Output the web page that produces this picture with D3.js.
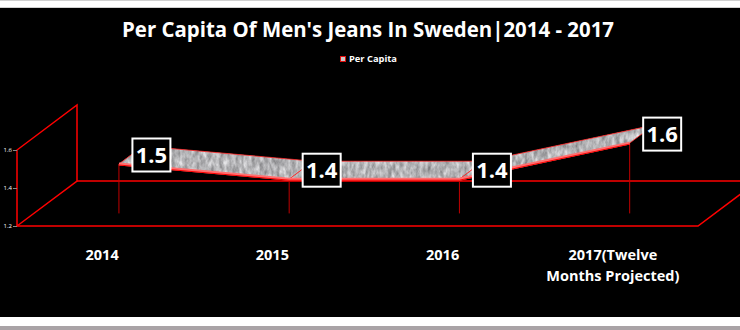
<!DOCTYPE html>
<html>
<head>
<meta charset="utf-8">
<script src="https://cdn.jsdelivr.net/npm/d3@7"></script>
<style>
  html, body { margin: 0; padding: 0; background: #fff; }
  svg { display: block; }
</style>
</head>
<body>
<svg id="chart" width="740" height="330"></svg>
<script>
// chart data
var categories = ["2014", "2015", "2016", "2017(Twelve Months Projected)"];
var perCapita = [1.46, 1.38, 1.38, 1.57];
var yTicks = [1.2, 1.4, 1.6];
var seriesName = "Per Capita";

var svg = d3.select("#chart");

// page frame: thin white bands top and bottom, black chart area
svg.append("rect").attr("x", 0).attr("y", 0).attr("width", 740).attr("height", 330).attr("fill", "#fff");
svg.append("rect").attr("x", 0).attr("y", 0).attr("width", 740).attr("height", 1).attr("fill", "#d0d0d0");
svg.append("rect").attr("x", 0).attr("y", 7).attr("width", 740).attr("height", 1).attr("fill", "#d0d0d0");
svg.append("rect").attr("x", 0).attr("y", 8).attr("width", 740).attr("height", 309).attr("fill", "#000");
svg.append("rect").attr("x", 0).attr("y", 326).attr("width", 740).attr("height", 4).attr("fill", "#a9a3a6");

var defs = svg.append("defs");
var filt = defs.append("filter").attr("id", "granite")
  .attr("color-interpolation-filters", "sRGB")
  .attr("x", 0).attr("y", 0).attr("width", 1).attr("height", 1);
filt.append("feTurbulence").attr("type", "fractalNoise")
  .attr("baseFrequency", "0.25 0.12").attr("numOctaves", 3).attr("seed", 4).attr("result", "noise");
filt.append("feColorMatrix").attr("in", "noise").attr("type", "matrix")
  .attr("values", "0.55 0 0 0 0.43  0.55 0 0 0 0.43  0.55 0 0 0 0.44  0 0 0 0 1").attr("result", "grey");
filt.append("feComposite").attr("in", "grey").attr("in2", "SourceGraphic").attr("operator", "in");

// 3d projection: depth 0..1 shifts right and up
var depthX = 60, depthY = -45;
var x = d3.scaleBand().domain(categories).range([17, 698]);
var y = d3.scaleLinear().domain([1.2, 1.6]).range([226, 150]);
function px(cat, d) { return x(cat) + x.bandwidth() / 2 + d * depthX; }
function py(v, d) { return y(v) + d * depthY; }

var front = 0.28, back = 0.68;
var red = "#ff0000";

// title
svg.append("text")
  .attr("x", 368).attr("y", 37)
  .attr("text-anchor", "middle")
  .attr("font-family", "'Open Sans', sans-serif")
  .attr("font-weight", "bold")
  .attr("font-size", 21)
  .attr("fill", "#fff")
  .attr("textLength", 492).attr("lengthAdjust", "spacingAndGlyphs")
  .text("Per Capita Of Men's Jeans In Sweden|2014 - 2017");

// legend
var leg = svg.append("g").attr("transform", "translate(340,56)");
leg.append("rect").attr("x", 0.5).attr("y", 0.5).attr("width", 5).attr("height", 5)
  .attr("fill", "#c8c8c8").attr("stroke", "#e01010").attr("stroke-width", 1);
leg.append("text").attr("x", 9).attr("y", 6)
  .attr("font-family", "'Open Sans', sans-serif").attr("font-weight", "bold")
  .attr("font-size", 9.5).attr("fill", "#fff")
  .attr("textLength", 48).attr("lengthAdjust", "spacingAndGlyphs")
  .text(seriesName);

// walls and floor
var x0 = x.range()[0], x1 = x.range()[1];
var yMin = y(y.domain()[0]), yMax = y(y.domain()[1]);
var walls = svg.append("g").attr("fill", "none").attr("stroke", red).attr("stroke-width", 1.5);
walls.append("path").attr("d",
  "M" + x0 + "," + yMin + "V" + yMax +
  "L" + (x0 + depthX) + "," + (yMax + depthY) +
  "V" + (yMin + depthY) + "L" + x0 + "," + yMin);
walls.append("path").attr("d", "M" + (x0 + depthX) + "," + (yMin + depthY) + "H" + (x1 + depthX));
walls.append("path").attr("d", "M" + x0 + "," + yMin + "H" + x1 + "L" + (x1 + depthX) + "," + (yMin + depthY));

// y axis ticks, labels squeezed into the narrow left margin
var yAxis = svg.append("g").attr("transform", "translate(" + x0 + ",0)")
  .call(d3.axisLeft(y).tickValues(yTicks).tickSize(4).tickFormat(d3.format(".1f")));
yAxis.select(".domain").remove();
yAxis.selectAll(".tick line").attr("stroke", "#888");
yAxis.selectAll(".tick text").attr("fill", "#fff").attr("font-size", 6)
  .attr("font-family", "'Open Sans', sans-serif").attr("x", -5);

// drop lines
svg.append("g").selectAll("line").data(categories).enter().append("line")
  .attr("x1", function(c) { return px(c, front); })
  .attr("x2", function(c) { return px(c, front); })
  .attr("y1", function(c, i) { return py(perCapita[i], front); })
  .attr("y2", function(c) { return py(y.domain()[0], front); })
  .attr("stroke", "#c00000").attr("stroke-width", 1);

// ribbon
var ribbon = svg.append("g");
for (var i = 0; i < categories.length - 1; i++) {
  var c0 = categories[i], c1 = categories[i + 1];
  var v0 = perCapita[i], v1 = perCapita[i + 1];
  var pts = [[px(c0, front), py(v0, front)], [px(c1, front), py(v1, front)],
             [px(c1, back), py(v1, back)], [px(c0, back), py(v0, back)]];
  ribbon.append("path")
    .attr("d", "M" + pts.join("L") + "Z")
    .attr("fill", "#a8a8a8");
  ribbon.append("path")
    .attr("d", "M" + pts.join("L") + "Z")
    .attr("fill", "#a8a8a8").attr("filter", "url(#granite)");
  ribbon.append("path")
    .attr("d", "M" + pts.join("L") + "Z")
    .attr("fill", "none").attr("stroke", "#ff2020").attr("stroke-width", 0.8);
}
// front face of the ribbon
var frontLine = d3.line()
  .x(function(d, i) { return px(categories[i], front); })
  .y(function(d) { return py(d, front); });
ribbon.append("path").attr("d", frontLine(perCapita))
  .attr("fill", "none").attr("stroke", "#ff7070").attr("stroke-width", 3);
ribbon.append("path").attr("d", frontLine(perCapita))
  .attr("fill", "none").attr("stroke", "#ff0000").attr("stroke-width", 1)
  .attr("transform", "translate(0,1)");

// data labels
var fmt = d3.format(".1f");
var lab = svg.append("g").selectAll("g").data(categories).enter().append("g")
  .attr("transform", function(c, i) {
    return "translate(" + (px(c, front) + 13.5) + "," + ((py(perCapita[i], front) + py(perCapita[i], back)) / 2) + ")";
  });
lab.append("rect").attr("x", 0).attr("y", -16.5).attr("width", 38).attr("height", 33)
  .attr("fill", "#000").attr("stroke", "#fff").attr("stroke-width", 2);
lab.append("text").attr("x", 19).attr("y", 8)
  .attr("text-anchor", "middle")
  .attr("font-family", "'Open Sans', sans-serif").attr("font-weight", "bold")
  .attr("font-size", 22).attr("fill", "#fff")
  .text(function(c, i) { return fmt(perCapita[i]); });

// category labels
var catLab = svg.append("g").selectAll("text").data(categories).enter().append("text")
  .attr("x", function(c) { return x(c) + x.bandwidth() / 2; })
  .attr("y", 260)
  .attr("text-anchor", "middle")
  .attr("font-family", "'Open Sans', sans-serif").attr("font-weight", "bold")
  .attr("font-size", 14.5).attr("fill", "#fff");
catLab.each(function(c) {
  var parts = c.indexOf("(") > 0 ? [c.slice(0, c.indexOf(" ")), c.slice(c.indexOf(" ") + 1)] : [c];
  var t = d3.select(this);
  parts.forEach(function(p, k) {
    t.append("tspan").attr("x", x(c) + x.bandwidth() / 2).attr("dy", k === 0 ? 0 : 21).text(p);
  });
});
</script>
</body>
</html>
